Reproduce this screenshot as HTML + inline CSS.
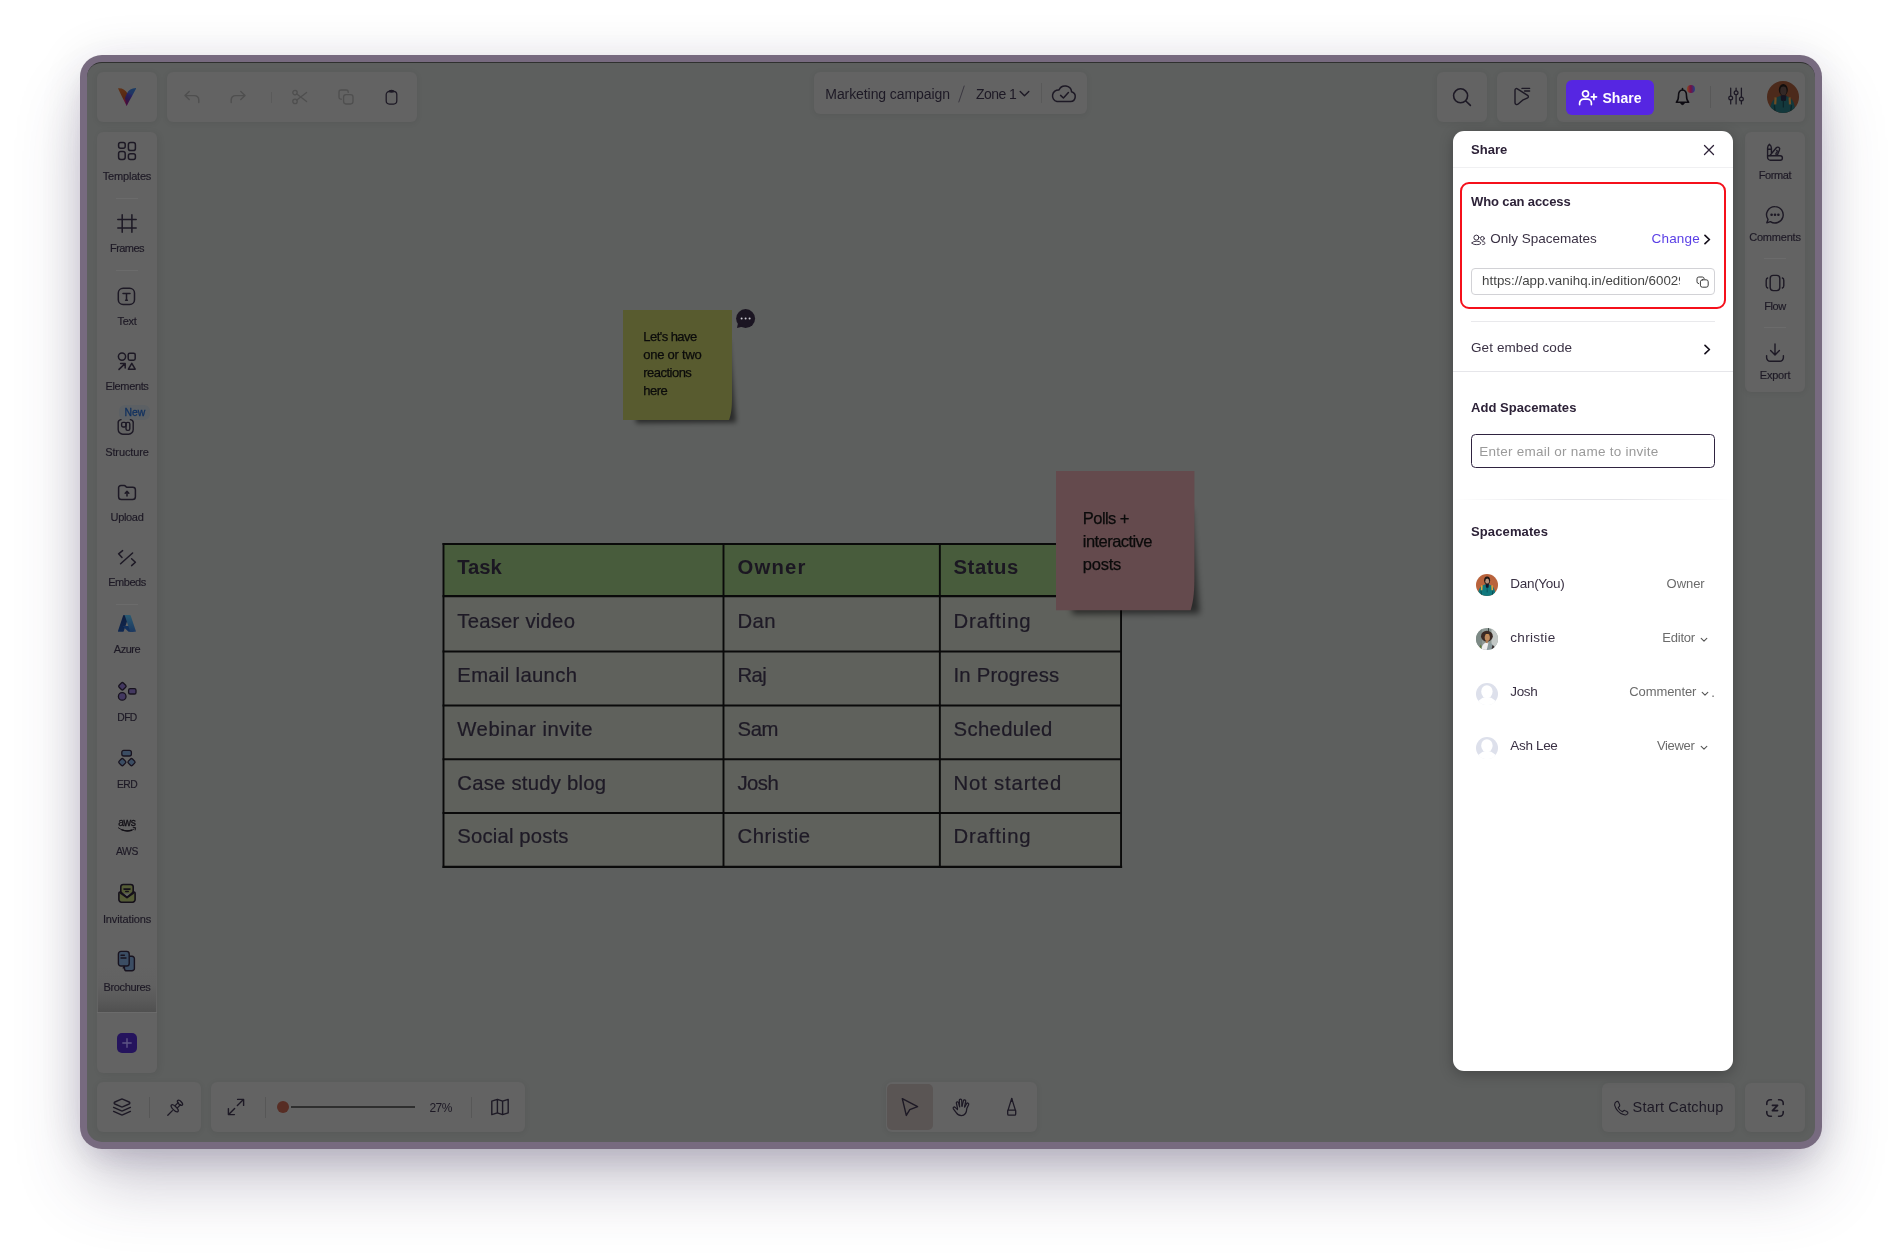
<!DOCTYPE html>
<html lang="en"><head><meta charset="utf-8"><title>Share board</title>
<style>
html,body{margin:0;padding:0;}
body{width:1902px;height:1254px;position:relative;overflow:hidden;background:#fff;
 font-family:"Liberation Sans",sans-serif;}
#root{position:absolute;left:0;top:0;width:1902px;height:1254px;will-change:transform;}
.b{position:absolute;box-sizing:border-box;display:block;}
.t{position:absolute;white-space:nowrap;line-height:1;display:block;}
.p{position:absolute;box-sizing:border-box;background:#636363;border-radius:6px;
 box-shadow:0 1px 6px rgba(0,0,0,.07);}
</style></head>
<body>
<div id="root">
<div class="b" style="left:80px;top:55px;width:1742px;height:1094px;border-radius:22px;background:#776a7f;box-shadow:0 38px 70px -8px rgba(62,50,88,.29),0 14px 30px -10px rgba(40,30,60,.12),0 4px 50px rgba(62,50,88,.12);"></div>
<div class="b" style="left:87px;top:62px;width:1728px;height:1080px;border-radius:15px;background:#5d5f5e;border-top:1px solid #2f302f;"></div>
<svg class="b" style="left:0;top:0" width="1200" height="900" viewBox="0 0 1200 900" fill="none" stroke="#0a0a0a" stroke-linecap="butt"><rect x="443.5" y="544.0" width="677.55" height="322.9" fill="#5f615c" stroke="none"/><rect x="443.5" y="544.0" width="677.55" height="52.10000000000002" fill="#485c3c" stroke="none"/><path d="M442.55 544.0 H1122.1499999999999" stroke-width="2.0"/><path d="M442.55 596.1 H1121.95" stroke-width="2.4"/><path d="M442.55 651.5 H1121.95" stroke-width="2.0"/><path d="M442.55 705.4 H1121.95" stroke-width="2.0"/><path d="M442.55 759.3 H1121.95" stroke-width="2.0"/><path d="M442.55 813.1 H1121.95" stroke-width="2.0"/><path d="M442.55 866.9 H1122.1499999999999" stroke-width="2.1"/><path d="M443.5 543.0 V867.9" stroke-width="1.9"/><path d="M723.5 543.0 V867.9" stroke-width="1.9"/><path d="M939.85 543.0 V867.9" stroke-width="1.9"/><path d="M1121.05 543.0 V867.9" stroke-width="1.9"/></svg>
<span class="t" style="left:457.3px;top:556.97px;font-size:20.3px;color:#1b1722;font-weight:700;letter-spacing:-0.114px;">Task</span>
<span class="t" style="left:737.5px;top:556.97px;font-size:20.3px;color:#1b1722;font-weight:700;letter-spacing:1.187px;">Owner</span>
<span class="t" style="left:953.5px;top:556.97px;font-size:20.3px;color:#1b1722;font-weight:700;letter-spacing:0.556px;">Status</span>
<span class="t" style="left:457.3px;top:611.27px;font-size:20.3px;color:#1e1a26;letter-spacing:0.239px;-webkit-text-stroke:.22px #1e1a26;">Teaser video</span>
<span class="t" style="left:737.5px;top:611.27px;font-size:20.3px;color:#1e1a26;letter-spacing:0.389px;-webkit-text-stroke:.22px #1e1a26;">Dan</span>
<span class="t" style="left:953.5px;top:611.27px;font-size:20.3px;color:#1e1a26;letter-spacing:0.863px;-webkit-text-stroke:.22px #1e1a26;">Drafting</span>
<span class="t" style="left:457.3px;top:665.07px;font-size:20.3px;color:#1e1a26;letter-spacing:0.318px;-webkit-text-stroke:.22px #1e1a26;">Email launch</span>
<span class="t" style="left:737.5px;top:665.07px;font-size:20.3px;color:#1e1a26;letter-spacing:-0.55px;-webkit-text-stroke:.22px #1e1a26;">Raj</span>
<span class="t" style="left:953.5px;top:665.07px;font-size:20.3px;color:#1e1a26;letter-spacing:0.202px;-webkit-text-stroke:.22px #1e1a26;">In Progress</span>
<span class="t" style="left:457.3px;top:718.87px;font-size:20.3px;color:#1e1a26;letter-spacing:0.544px;-webkit-text-stroke:.22px #1e1a26;">Webinar invite</span>
<span class="t" style="left:737.5px;top:718.87px;font-size:20.3px;color:#1e1a26;letter-spacing:-0.362px;-webkit-text-stroke:.22px #1e1a26;">Sam</span>
<span class="t" style="left:953.5px;top:718.87px;font-size:20.3px;color:#1e1a26;letter-spacing:0.373px;-webkit-text-stroke:.22px #1e1a26;">Scheduled</span>
<span class="t" style="left:457.3px;top:772.57px;font-size:20.3px;color:#1e1a26;letter-spacing:0.232px;-webkit-text-stroke:.22px #1e1a26;">Case study blog</span>
<span class="t" style="left:737.5px;top:772.57px;font-size:20.3px;color:#1e1a26;letter-spacing:-0.55px;-webkit-text-stroke:.22px #1e1a26;">Josh</span>
<span class="t" style="left:953.5px;top:772.57px;font-size:20.3px;color:#1e1a26;letter-spacing:0.853px;-webkit-text-stroke:.22px #1e1a26;">Not started</span>
<span class="t" style="left:457.3px;top:826.37px;font-size:20.3px;color:#1e1a26;letter-spacing:0.17px;-webkit-text-stroke:.22px #1e1a26;">Social posts</span>
<span class="t" style="left:737.5px;top:826.37px;font-size:20.3px;color:#1e1a26;letter-spacing:0.558px;-webkit-text-stroke:.22px #1e1a26;">Christie</span>
<span class="t" style="left:953.5px;top:826.37px;font-size:20.3px;color:#1e1a26;letter-spacing:0.863px;-webkit-text-stroke:.22px #1e1a26;">Drafting</span>
<svg class="b" style="left:603px;top:290px" width="149.0" height="150.0"><defs><filter id="ys" x="-20%" y="-20%" width="140%" height="140%"><feGaussianBlur stdDeviation="2.60"/></filter></defs><path d="M32.0 116.0 L126.0 50.0 L133.2 132.6 L33.0 133.2 Z" fill="#000" fill-opacity=".55" filter="url(#ys)"/></svg>
<svg class="b" style="left:623px;top:310px;" width="110" height="111" viewBox="0 0 110 111" fill="none" stroke="none" stroke-width="0" stroke-linecap="round" stroke-linejoin="round"><path d="M0 0 H109 V88 C109 98 108 105 106 110 H0 Z" fill="#585b2f"/></svg>
<span class="t" style="left:643.3px;top:330.45px;font-size:13px;color:#0b0b0b;letter-spacing:-0.55px;-webkit-text-stroke:.25px #0b0b0b;">Let&#x27;s have</span>
<span class="t" style="left:643.3px;top:348.45px;font-size:13px;color:#0b0b0b;letter-spacing:-0.25px;-webkit-text-stroke:.25px #0b0b0b;">one or two</span>
<span class="t" style="left:643.3px;top:366.45px;font-size:13px;color:#0b0b0b;letter-spacing:-0.524px;-webkit-text-stroke:.25px #0b0b0b;">reactions</span>
<span class="t" style="left:643.3px;top:384.45px;font-size:13px;color:#0b0b0b;letter-spacing:-0.55px;-webkit-text-stroke:.25px #0b0b0b;">here</span>
<svg class="b" style="left:735px;top:308px;" width="22" height="22" viewBox="0 0 22 22" fill="none" stroke="none" stroke-width="0" stroke-linecap="round" stroke-linejoin="round"><circle cx="10.6" cy="10.6" r="9.5" fill="#1b1522"/><path d="M3 15 L2 20 L8 18.6 Z" fill="#1b1522"/><circle cx="6.6" cy="10.6" r="1" fill="#c9c6cf"/><circle cx="10.6" cy="10.6" r="1" fill="#c9c6cf"/><circle cx="14.6" cy="10.6" r="1" fill="#c9c6cf"/></svg>
<svg class="b" style="left:1036px;top:451px" width="178.4" height="179.2"><defs><filter id="ps" x="-20%" y="-20%" width="140%" height="140%"><feGaussianBlur stdDeviation="3.25"/></filter></defs><path d="M35.0 145.2 L155.4 57.5 L163.7 162.5 L36.2 163.2 Z" fill="#000" fill-opacity=".55" filter="url(#ps)"/></svg>
<svg class="b" style="left:1056px;top:471px;" width="139" height="140" viewBox="0 0 139 140" fill="none" stroke="none" stroke-width="0" stroke-linecap="round" stroke-linejoin="round"><path d="M0 0 H138.4 V108 C138.4 122 137 132 134.6 139.2 H0 Z" fill="#644a4d"/></svg>
<span class="t" style="left:1082.8px;top:509.68px;font-size:16.5px;color:#0b0b0b;letter-spacing:-0.55px;-webkit-text-stroke:.25px #0b0b0b;">Polls +</span>
<span class="t" style="left:1082.8px;top:532.78px;font-size:16.5px;color:#0b0b0b;letter-spacing:-0.55px;-webkit-text-stroke:.25px #0b0b0b;">interactive</span>
<span class="t" style="left:1082.8px;top:555.88px;font-size:16.5px;color:#0b0b0b;letter-spacing:-0.252px;-webkit-text-stroke:.25px #0b0b0b;">posts</span>
<div class="p" style="left:97px;top:72px;width:60px;height:50px;"></div>
<svg class="b" style="left:117.85px;top:87.7px;" width="18.3" height="17.9" viewBox="0 0 18.3 17.9" fill="none" stroke="none" stroke-width="0" stroke-linecap="round" stroke-linejoin="round"><defs><linearGradient id="lgL" x1="2" y1="1" x2="9" y2="17" gradientUnits="userSpaceOnUse"><stop offset="0" stop-color="#603116"/><stop offset=".55" stop-color="#582813"/><stop offset=".72" stop-color="#66172e"/><stop offset="1" stop-color="#4d0d3c"/></linearGradient><linearGradient id="lgR" x1="16.5" y1="1" x2="8.5" y2="17.5" gradientUnits="userSpaceOnUse"><stop offset="0" stop-color="#1b3b63"/><stop offset=".3" stop-color="#1f3564"/><stop offset=".42" stop-color="#272161"/><stop offset=".66" stop-color="#2b1a4c"/><stop offset=".8" stop-color="#3c1042"/><stop offset="1" stop-color="#470a40"/></linearGradient></defs><path d="M0 0.3 C4.6 0 7.8 2.2 9.2 5 L9.4 12 L8.7 17.9 C5.8 12.2 2.4 5.6 0 0.3Z" fill="url(#lgL)"/><path d="M18.3 0.1 C13.5 0.3 10.6 2.4 9.2 5 C8.2 6.8 7.4 8.6 7 10 C7.4 13 8 15.6 8.7 17.9 C11.5 12.2 15.4 5.8 18.3 0.1Z" fill="url(#lgR)"/></svg>
<div class="p" style="left:167px;top:72px;width:250px;height:50px;"></div>
<svg class="b" style="left:184px;top:89px;" width="16" height="16" viewBox="0 0 16 16" fill="none" stroke="#4f4f4f" stroke-width="1.4" stroke-linecap="round" stroke-linejoin="round"><path d="M5.2 2.6 L1 6.6 L5.2 10.6 M1.2 6.6 H10.5 A4.3 4.3 0 0 1 14.8 10.9 V13.6"/></svg>
<svg class="b" style="left:230px;top:89px;" width="16" height="16" viewBox="0 0 16 16" fill="none" stroke="#4f4f4f" stroke-width="1.4" stroke-linecap="round" stroke-linejoin="round"><path d="M10.8 2.6 L15 6.6 L10.8 10.6 M14.8 6.6 H5.5 A4.3 4.3 0 0 0 1.2 10.9 V13.6"/></svg>
<div class="b" style="left:271px;top:92px;width:1px;height:11px;background:#5a5a5a;"></div>
<svg class="b" style="left:292px;top:89px;" width="16" height="16" viewBox="0 0 16 16" fill="none" stroke="#4f4f4f" stroke-width="1.3" stroke-linecap="round" stroke-linejoin="round"><circle cx="3" cy="3.6" r="2.2"/><circle cx="3" cy="12.4" r="2.2"/><path d="M4.8 5 L14.6 12.6 M4.8 11 L14.6 3.4"/></svg>
<svg class="b" style="left:338px;top:89px;" width="16" height="16" viewBox="0 0 16 16" fill="none" stroke="#4f4f4f" stroke-width="1.3" stroke-linecap="round" stroke-linejoin="round"><rect x="5.6" y="5.6" width="9.4" height="9.4" rx="2.4"/><path d="M3.4 10.2 H3 A2 2 0 0 1 1 8.2 V3 A2 2 0 0 1 3 1 H8.2 A2 2 0 0 1 10.2 3 V3.4"/></svg>
<svg class="b" style="left:385px;top:89px;" width="13" height="16" viewBox="0 0 13 16" fill="none" stroke="#1d1925" stroke-width="1.25" stroke-linecap="round" stroke-linejoin="round"><rect x="1.2" y="2.4" width="10.6" height="12.6" rx="3.2"/><path d="M3.8 2.6 C4.2 0.8 8.8 0.8 9.2 2.6 C8 3.4 5 3.4 3.8 2.6"/></svg>
<div class="p" style="left:814px;top:72px;width:273px;height:42px;"></div>
<span class="t" style="left:825.3px;top:86.90px;font-size:14px;color:#1d1925;letter-spacing:-0.08px;">Marketing campaign</span>
<svg class="b" style="left:957px;top:85px;" width="9" height="18" viewBox="0 0 9 18" fill="none" stroke="#3a3740" stroke-width="1" stroke-linecap="round" stroke-linejoin="round"><path d="M7.2 1 L1.8 17"/></svg>
<span class="t" style="left:976px;top:86.90px;font-size:14px;color:#1d1925;letter-spacing:-0.55px;">Zone 1</span>
<svg class="b" style="left:1019px;top:89.7px;" width="11" height="8" viewBox="0 0 11 8" fill="none" stroke="#1d1925" stroke-width="1.4" stroke-linecap="round" stroke-linejoin="round"><path d="M1.2 1.6 L5.5 5.8 L9.8 1.6"/></svg>
<div class="b" style="left:1041px;top:83px;width:1px;height:20px;background:#595959;"></div>
<svg class="b" style="left:1050px;top:84px;" width="28" height="20" viewBox="0 0 28 20" fill="none" stroke="#1d1925" stroke-width="1.5" stroke-linecap="round" stroke-linejoin="round"><path d="M7 17.6 H20.5 A5 5 0 0 0 21.6 7.8 A6.6 6.6 0 0 0 9 6 A5.9 5.9 0 0 0 7 17.6 Z"/><path d="M10.6 11.4 L13.4 14 L18.4 8.6"/></svg>
<div class="p" style="left:1437px;top:72px;width:50px;height:50px;"></div>
<svg class="b" style="left:1452px;top:87px;" width="20" height="20" viewBox="0 0 20 20" fill="none" stroke="#1d1925" stroke-width="1.6" stroke-linecap="round" stroke-linejoin="round"><circle cx="8.6" cy="8.8" r="7"/><path d="M13.8 14 L18.4 18.4"/></svg>
<div class="p" style="left:1497px;top:72px;width:50px;height:50px;"></div>
<svg class="b" style="left:1513px;top:87px;" width="18" height="19" viewBox="0 0 18 19" fill="none" stroke="#1d1925" stroke-width="1.4" stroke-linecap="round" stroke-linejoin="round"><path d="M2 3.2 C2 1.8 3.2 1.2 4.4 1.8 L14.6 8.4 C15.8 9.2 15.6 10.6 14.2 11.2 L9.6 13.2 L5.2 17 C3.8 18.2 2 17.4 2 15.8 Z"/><path d="M9 1.4 H16.6 M11.6 4 H16.6"/></svg>
<div class="p" style="left:1557px;top:72px;width:248px;height:50px;"></div>
<div class="b" style="left:1566.3px;top:80px;width:87.7px;height:35px;background:#5626e2;border-radius:6px;"></div>
<svg class="b" style="left:1578px;top:89px;" width="20" height="17" viewBox="0 0 20 17" fill="none" stroke="#fff" stroke-width="1.7" stroke-linecap="round" stroke-linejoin="round"><circle cx="7.5" cy="4.8" r="3"/><path d="M1.6 15.6 V14.2 A4 4 0 0 1 5.6 10.2 H9.4 A4 4 0 0 1 13.4 14.2 V15.6"/><path d="M15.9 5.2 V10.4 M13.3 7.8 H18.5"/></svg>
<span class="t" style="left:1602.5px;top:90.90px;font-size:14px;color:#fff;font-weight:700;letter-spacing:0.023px;">Share</span>
<svg class="b" style="left:1674px;top:87px;" width="18" height="21" viewBox="0 0 18 21" fill="none" stroke="#0e0c12" stroke-width="1.55" stroke-linecap="round" stroke-linejoin="round"><path d="M8.5 1.5 V2.8"/><path d="M2.3 15.3 C4.5 13.4 4.5 11.6 4.5 8.8 C4.5 5.2 6 3 8.5 3 C11 3 12.5 5.2 12.5 8.8 C12.5 11.6 12.5 13.4 14.7 15.3 Z"/><path d="M6.7 16 C7.1 18.3 9.9 18.3 10.3 16 Z" fill="#0e0c12" stroke-width="1"/></svg>
<div class="b" style="left:1686.8px;top:84.9px;width:8.3px;height:8.3px;border-radius:50%;background:linear-gradient(90deg,#8a4a1e 0%,#78143c 42%,#5c1a58 62%,#1f4585 100%);"></div>
<div class="b" style="left:1710px;top:86px;width:1px;height:22px;background:#585858;"></div>
<svg class="b" style="left:1727px;top:87px;" width="18" height="18" viewBox="0 0 18 18" fill="none" stroke="#1d1925" stroke-width="1.25" stroke-linecap="round" stroke-linejoin="round"><path d="M3.7 1.1 V9 M3.7 13 V16.9 M9.1 1.1 V3.8 M9.1 7.8 V16.9 M14.4 1.1 V9.9 M14.4 13.9 V16.9"/><circle cx="3.7" cy="11" r="1.9"/><circle cx="9.1" cy="5.8" r="1.9"/><circle cx="14.4" cy="11.9" r="1.9"/></svg>
<svg class="b" style="left:1767px;top:81px;" width="32" height="32" viewBox="0 0 32 32" fill="none" stroke="none" stroke-width="0" stroke-linecap="round" stroke-linejoin="round"><defs><clipPath id="avc"><circle cx="16" cy="16" r="16"/></clipPath></defs><g clip-path="url(#avc)"><rect width="32" height="32" fill="#4c2a1b"/><path d="M2.4 32 C3 21 7.4 15.2 16.2 14.6 C24.8 15.2 28.2 21 28.2 32 Z" fill="#13383c"/><path d="M8.6 16.4 L8.2 23.4 M22.6 16.4 L23 23.4" stroke="#6e4c22" stroke-width="2.2" stroke-linecap="butt"/><path d="M7.4 24.6 L8.2 32 M24.4 24.6 L23.6 32" stroke="#0c2528" stroke-width="1.4"/><ellipse cx="16.3" cy="8.8" rx="4.5" ry="5.9" fill="#120e0d"/><ellipse cx="16.4" cy="10" rx="3.2" ry="4.4" fill="#332826"/><path d="M13.6 14.2 H19.4 L19 19.2 C18 20.4 15 20.4 14 19.2 Z" fill="#141421"/><path d="M16.3 19.6 V26" stroke="#0c2226" stroke-width="1.1"/></g></svg>
<div class="p" style="left:97px;top:132px;width:60px;height:941px;box-shadow:2px 1px 7px rgba(0,0,0,.07);"></div>
<svg class="b" style="left:117px;top:141px;" width="20" height="20" viewBox="0 0 20 20" fill="none" stroke="#1d1925" stroke-width="1.5" stroke-linecap="round" stroke-linejoin="round"><rect x="1.6" y="1.6" width="6.6" height="5.6" rx="2"/><rect x="11.4" y="1.6" width="7" height="8" rx="2.2"/><rect x="1.6" y="10.4" width="6.6" height="8" rx="2.2"/><rect x="11.4" y="12.8" width="7" height="5.6" rx="2"/></svg>
<span class="t" style="left:127px;top:170.84px;font-size:11px;color:#1d1925;letter-spacing:-0.198px;transform:translateX(-50%);-webkit-text-stroke:.15px #1d1925;">Templates</span>
<div class="b" style="left:116px;top:197.5px;width:22px;height:1px;background:#6b6b6b;"></div>
<svg class="b" style="left:117px;top:214px;" width="20" height="19" viewBox="0 0 20 19" fill="none" stroke="#1d1925" stroke-width="1.5" stroke-linecap="round" stroke-linejoin="round"><path d="M5.2 0.8 V18.2 M14.9 0.8 V18.2 M0.8 5.4 H19.2 M0.8 13.9 H19.2"/></svg>
<span class="t" style="left:127px;top:242.94px;font-size:11px;color:#1d1925;letter-spacing:-0.55px;transform:translateX(-50%);-webkit-text-stroke:.15px #1d1925;">Frames</span>
<div class="b" style="left:116px;top:270px;width:22px;height:1px;background:#6b6b6b;"></div>
<svg class="b" style="left:117px;top:287px;" width="19" height="19" viewBox="0 0 19 19" fill="none" stroke="#1d1925" stroke-width="1.5" stroke-linecap="round" stroke-linejoin="round"><rect x="1.3" y="1.3" width="16.2" height="16.2" rx="4.8"/><path d="M6 6.6 H13 M9.5 6.6 V13.2 M8.6 13.3 H10.4"/></svg>
<span class="t" style="left:127px;top:315.54px;font-size:11px;color:#1d1925;letter-spacing:-0.274px;transform:translateX(-50%);-webkit-text-stroke:.15px #1d1925;">Text</span>
<svg class="b" style="left:117px;top:352px;" width="20" height="19" viewBox="0 0 20 19" fill="none" stroke="#1d1925" stroke-width="1.5" stroke-linecap="round" stroke-linejoin="round"><circle cx="5" cy="4.6" r="3.6"/><rect x="11.2" y="1.2" width="7" height="7" rx="1.6"/><path d="M2 17.4 L8 11.6 M3.6 11.4 H8.2 V16"/><path d="M14.8 11.4 L18.2 17.2 H11.4 Z"/></svg>
<span class="t" style="left:127px;top:381.14px;font-size:11px;color:#1d1925;letter-spacing:-0.357px;transform:translateX(-50%);-webkit-text-stroke:.15px #1d1925;">Elements</span>
<div class="b" style="left:119px;top:405.2px;width:30.7px;height:14.5px;background:#5c6064;border-radius:6px;"></div>
<span class="t" style="left:134.8px;top:408.15px;font-size:10.4px;color:#10305f;letter-spacing:0.008px;transform:translateX(-50%);-webkit-text-stroke:.3px #10305f;">New</span>
<svg class="b" style="left:117px;top:418px;" width="18" height="18" viewBox="0 0 18 18" fill="none" stroke="#1d1925" stroke-width="1.4" stroke-linecap="round" stroke-linejoin="round"><path d="M4 1.6 A3.4 3.4 0 0 0 1.2 5.4 V11.6 A4.6 4.6 0 0 0 5.8 16.2 H11.6 A4.6 4.6 0 0 0 16.2 11.6 V5.4 A3.4 3.4 0 0 0 13.4 1.6" /><rect x="4.6" y="4.4" width="4.4" height="4.6" rx="1.4"/><rect x="9" y="4.4" width="3.8" height="8" rx="1.6"/></svg>
<span class="t" style="left:127px;top:446.74px;font-size:11px;color:#1d1925;letter-spacing:-0.109px;transform:translateX(-50%);-webkit-text-stroke:.15px #1d1925;">Structure</span>
<svg class="b" style="left:117px;top:484px;" width="20" height="17" viewBox="0 0 20 17" fill="none" stroke="#1d1925" stroke-width="1.5" stroke-linecap="round" stroke-linejoin="round"><path d="M1.6 4 A2.4 2.4 0 0 1 4 1.4 H7.2 C8.6 1.4 8.6 3.2 10 3.2 H15.8 A2.6 2.6 0 0 1 18.4 5.8 V12.8 A2.8 2.8 0 0 1 15.6 15.6 H4.4 A2.8 2.8 0 0 1 1.6 12.8 Z"/><path d="M10 12 V7.6 M8.2 9.2 L10 7.4 L11.8 9.2"/></svg>
<span class="t" style="left:127px;top:511.84px;font-size:11px;color:#1d1925;letter-spacing:-0.321px;transform:translateX(-50%);-webkit-text-stroke:.15px #1d1925;">Upload</span>
<svg class="b" style="left:117px;top:549px;" width="20" height="18" viewBox="0 0 20 18" fill="none" stroke="#1d1925" stroke-width="1.5" stroke-linecap="round" stroke-linejoin="round"><path d="M5.6 1.6 L1.6 4.8 L5 8.4 M3.6 14.8 L15.6 4 M14.6 9.8 L18.4 13.2 L14.6 16.6"/></svg>
<span class="t" style="left:127px;top:577.44px;font-size:11px;color:#1d1925;letter-spacing:-0.48px;transform:translateX(-50%);-webkit-text-stroke:.15px #1d1925;">Embeds</span>
<div class="b" style="left:116px;top:604.3px;width:22px;height:1px;background:#6b6b6b;"></div>
<svg class="b" style="left:118.1px;top:615.1px" width="17.8" height="16.8" viewBox="4 6.5 88 83" preserveAspectRatio="none"><defs><linearGradient id="azL" x1="0" y1="0" x2="0" y2="1"><stop offset="0" stop-color="#0e1d3e"/><stop offset="1" stop-color="#102850"/></linearGradient><linearGradient id="azR" x1="0" y1="0" x2="0" y2="1"><stop offset="0" stop-color="#2a5a72"/><stop offset="1" stop-color="#1b3860"/></linearGradient></defs><path fill="url(#azL)" d="M33.338 6.544h26.038l-27.03 80.087a4.152 4.152 0 0 1-3.933 2.824H8.149a4.145 4.145 0 0 1-3.928-5.47L29.404 9.368a4.152 4.152 0 0 1 3.934-2.825z"/><path fill="#12305c" d="M71.175 60.261h-41.29a1.911 1.911 0 0 0-1.305 3.309l26.532 24.764a4.171 4.171 0 0 0 2.846 1.121h23.38z"/><path fill="url(#azR)" d="M66.595 9.364a4.145 4.145 0 0 0-3.928-2.82H33.648a4.146 4.146 0 0 1 3.928 2.82l25.184 74.62a4.146 4.146 0 0 1-3.928 5.472h29.02a4.146 4.146 0 0 0 3.927-5.472z"/></svg>
<span class="t" style="left:127px;top:643.84px;font-size:11px;color:#1d1925;letter-spacing:-0.446px;transform:translateX(-50%);-webkit-text-stroke:.15px #1d1925;">Azure</span>
<svg class="b" style="left:117px;top:681px;" width="21" height="21" viewBox="0 0 21 21" fill="none" stroke="#18131f" stroke-width="1.3" stroke-linecap="round" stroke-linejoin="round"><rect x="2.4" y="2.2" width="6" height="6" rx="1.4" transform="rotate(45 5.4 5.2)" fill="#433860"/><circle cx="5.2" cy="15.4" r="3.8" fill="#433860"/><rect x="11.6" y="7.6" width="7.4" height="5.4" rx="1.6" fill="#433860"/></svg>
<span class="t" style="left:127px;top:712.73px;font-size:10.3px;color:#1d1925;letter-spacing:-0.55px;transform:translateX(-50%);-webkit-text-stroke:.15px #1d1925;">DFD</span>
<svg class="b" style="left:117px;top:749px;" width="20" height="19" viewBox="0 0 20 19" fill="none" stroke="#18131f" stroke-width="1.3" stroke-linecap="round" stroke-linejoin="round"><rect x="4.8" y="1.4" width="9.6" height="5.6" rx="2" fill="#3b4d63"/><rect x="2.4" y="10.2" width="5.8" height="5.8" rx="1.4" transform="rotate(45 5.3 13.1)" fill="#3b4d63"/><rect x="11.6" y="10.2" width="5.8" height="5.8" rx="1.4" transform="rotate(45 14.5 13.1)" fill="#3b4d63"/></svg>
<span class="t" style="left:127px;top:779.93px;font-size:10.3px;color:#1d1925;letter-spacing:-0.55px;transform:translateX(-50%);-webkit-text-stroke:.15px #1d1925;">ERD</span>
<span class="t" style="left:126.8px;top:817.55px;font-size:10.4px;color:#121016;letter-spacing:-0.4px;transform:translateX(-50%);-webkit-text-stroke:.3px #121016;">aws</span>
<svg class="b" style="left:117px;top:826px;" width="20" height="7" viewBox="0 0 20 7" fill="none" stroke="#121016" stroke-width="1" stroke-linecap="round" stroke-linejoin="round"><path d="M1.4 1.8 C6.4 5.6 12.6 5.8 17.2 3 M16.2 1.4 L18.6 1.6 L18.2 4" stroke-width=".9"/><path d="M5 3.9 C8.4 5.2 11.6 5.2 14.6 4.2" stroke-width="1.5"/></svg>
<span class="t" style="left:127px;top:847.23px;font-size:10.3px;color:#1d1925;letter-spacing:-0.283px;transform:translateX(-50%);-webkit-text-stroke:.15px #1d1925;">AWS</span>
<svg class="b" style="left:117px;top:883px;" width="20" height="21" viewBox="0 0 20 21" fill="none" stroke="#15101a" stroke-width="1.6" stroke-linecap="round" stroke-linejoin="round"><path d="M3.8 10.4 V3.8 A2.4 2.4 0 0 1 6.2 1.5 H13.8 A2.4 2.4 0 0 1 16.2 3.8 V10.4" fill="#555c36"/><path d="M1.9 10.4 C1.9 9.4 2.8 8.8 3.8 9.2 L10 14.3 L16.2 9.2 C17.2 8.8 18.1 9.4 18.1 10.4 V16.6 A2.6 2.6 0 0 1 15.5 19.2 H4.5 A2.6 2.6 0 0 1 1.9 16.6 Z" fill="#555c36"/><path d="M3.8 10.4 L10 14.6 L16.2 10.4"/><path d="M7 6.1 H13 M8.8 8.5 H11.2"/></svg>
<span class="t" style="left:127px;top:913.84px;font-size:11px;color:#1d1925;letter-spacing:-0.127px;transform:translateX(-50%);-webkit-text-stroke:.15px #1d1925;">Invitations</span>
<div class="b" style="left:98px;top:966px;width:58px;height:45.5px;background:linear-gradient(180deg,rgba(80,80,80,0) 0%,rgba(80,80,80,.12) 45%,rgba(80,80,80,.5) 75%,rgba(80,80,80,1) 100%);"></div>
<svg class="b" style="left:117px;top:950px;" width="19" height="22" viewBox="0 0 19 22" fill="none" stroke="#18131f" stroke-width="1.4" stroke-linecap="round" stroke-linejoin="round"><path d="M7.4 16.8 V18.4 A2.4 2.4 0 0 0 9.8 20.8 H15 A2.4 2.4 0 0 0 17.4 18.4 V8.6 A2.4 2.4 0 0 0 15 6.2 H13" fill="#3b4d63"/><rect x="1.4" y="1.4" width="10.8" height="14.6" rx="2.6" fill="#3b4d63"/><path d="M7.2 16.4 L6.2 18" /><path d="M4 5.2 H7.4 M4 8 H9"/></svg>
<span class="t" style="left:127px;top:981.64px;font-size:11px;color:#1d1925;letter-spacing:-0.36px;transform:translateX(-50%);-webkit-text-stroke:.15px #1d1925;">Brochures</span>
<div class="b" style="left:97px;top:1011.5px;width:60px;height:1px;background:#6b6b6b;"></div>
<div class="b" style="left:117px;top:1033px;width:20px;height:20px;background:#25145d;border-radius:5px;"></div>
<svg class="b" style="left:117px;top:1033px;" width="20" height="20" viewBox="0 0 20 20" fill="none" stroke="#5e5585" stroke-width="1.4" stroke-linecap="round" stroke-linejoin="round"><path d="M10 5.8 V14.2 M5.8 10 H14.2"/></svg>
<div class="p" style="left:1745px;top:132px;width:60px;height:260px;"></div>
<svg class="b" style="left:1766px;top:143px;" width="18" height="19" viewBox="0 0 18 19" fill="none" stroke="#1d1925" stroke-width="1.4" stroke-linecap="round" stroke-linejoin="round"><path d="M1.6 13 V5 C1.6 3.5 2.5 2.1 3.4 1.3 C4.4 2.1 5.4 3.5 5.4 5 V9.6 M1.8 6.3 H5.3"/><path d="M3.9 12.5 L10.3 4.8 C11.6 3.3 14.5 4.7 13.5 6.8 L11.2 12.4"/><path d="M10.7 7.4 C11.7 8.1 11.3 9.6 10 10.3 L10.2 12.2"/><path d="M1.6 12.8 H14.2 A2.2 2.2 0 0 1 14.2 17.2 H4.4 A2.8 2.8 0 0 1 1.6 14.4 Z"/></svg>
<span class="t" style="left:1775px;top:170.14px;font-size:11px;color:#1d1925;letter-spacing:-0.377px;transform:translateX(-50%);-webkit-text-stroke:.15px #1d1925;">Format</span>
<svg class="b" style="left:1765px;top:205px;" width="20" height="20" viewBox="0 0 20 20" fill="none" stroke="#1d1925" stroke-width="1.4" stroke-linecap="round" stroke-linejoin="round"><path d="M10 1.6 A8.2 8.2 0 1 1 5.4 16.6 L1.8 17.8 L3 14.4 A8.2 8.2 0 0 1 10 1.6 Z"/><circle cx="6.6" cy="9.8" r=".6" fill="#1d1925"/><circle cx="10" cy="9.8" r=".6" fill="#1d1925"/><circle cx="13.4" cy="9.8" r=".6" fill="#1d1925"/></svg>
<span class="t" style="left:1775px;top:231.94px;font-size:11px;color:#1d1925;letter-spacing:-0.204px;transform:translateX(-50%);-webkit-text-stroke:.15px #1d1925;">Comments</span>
<div class="b" style="left:1764px;top:258px;width:22px;height:1px;background:#6b6b6b;"></div>
<svg class="b" style="left:1765px;top:274px;" width="20" height="18" viewBox="0 0 20 18" fill="none" stroke="#1d1925" stroke-width="1.4" stroke-linecap="round" stroke-linejoin="round"><rect x="5.2" y="1.4" width="9.6" height="15.2" rx="3"/><path d="M2.6 4 C1.4 4.4 1.2 5.4 1.2 6.4 V11.6 C1.2 12.6 1.4 13.6 2.6 14 M17.4 4 C18.6 4.4 18.8 5.4 18.8 6.4 V11.6 C18.8 12.6 18.6 13.6 17.4 14"/></svg>
<span class="t" style="left:1775px;top:300.84px;font-size:11px;color:#1d1925;letter-spacing:-0.391px;transform:translateX(-50%);-webkit-text-stroke:.15px #1d1925;">Flow</span>
<div class="b" style="left:1764px;top:326.6px;width:22px;height:1px;background:#6b6b6b;"></div>
<svg class="b" style="left:1765px;top:342px;" width="20" height="21" viewBox="0 0 20 21" fill="none" stroke="#1d1925" stroke-width="1.4" stroke-linecap="round" stroke-linejoin="round"><path d="M10 2 V12.6 M5.6 8.6 L10 13 L14.4 8.6"/><path d="M1.6 13.6 V15.6 A3.6 3.6 0 0 0 5.2 19.2 H14.8 A3.6 3.6 0 0 0 18.4 15.6 V13.6"/></svg>
<span class="t" style="left:1775px;top:370.04px;font-size:11px;color:#1d1925;letter-spacing:-0.228px;transform:translateX(-50%);-webkit-text-stroke:.15px #1d1925;">Export</span>
<div class="p" style="left:97px;top:1081.8px;width:104px;height:50.2px;"></div>
<svg class="b" style="left:112px;top:1097px;" width="20" height="20" viewBox="0 0 20 20" fill="none" stroke="#1d1925" stroke-width="1.4" stroke-linecap="round" stroke-linejoin="round"><path d="M8.9 2.3 L2.9 5 C1.9 5.5 1.9 6.5 2.9 7 L8.9 9.7 C9.6 10 10.4 10 11.1 9.7 L17.1 7 C18.1 6.5 18.1 5.5 17.1 5 L11.1 2.3 C10.4 2 9.6 2 8.9 2.3 Z"/><path d="M1.6 10.4 L8.9 13.7 C9.6 14 10.4 14 11.1 13.7 L18.4 10.4 M1.6 14.4 L8.9 17.7 C9.6 18 10.4 18 11.1 17.7 L18.4 14.4"/></svg>
<div class="b" style="left:149px;top:1096.5px;width:1px;height:21px;background:#575757;"></div>
<svg class="b" style="left:166px;top:1097px;" width="20" height="20" viewBox="0 0 20 20" fill="none" stroke="#1d1925" stroke-width="1.3" stroke-linecap="round" stroke-linejoin="round"><ellipse cx="14" cy="5.8" rx="3.2" ry="1.6" transform="rotate(45 14 5.8)"/><path d="M12.2 5.6 L9.4 8.4 M14.4 7.8 L11.6 10.6"/><ellipse cx="8.7" cy="11.3" rx="4.6" ry="1.9" transform="rotate(45 8.7 11.3)"/><path d="M6.4 13.6 L1.8 18.2"/></svg>
<div class="p" style="left:211px;top:1081.8px;width:314px;height:50.2px;"></div>
<svg class="b" style="left:226px;top:1097px;" width="20" height="20" viewBox="0 0 20 20" fill="none" stroke="#1d1925" stroke-width="1.4" stroke-linecap="round" stroke-linejoin="round"><path d="M11.6 2.4 H17.6 V8.4 M17.4 2.6 L11.4 8.6 M8.4 17.6 H2.4 V11.6 M2.6 17.4 L8.6 11.4"/></svg>
<div class="b" style="left:265px;top:1096.5px;width:1px;height:21px;background:#575757;"></div>
<div class="b" style="left:291px;top:1106.1px;width:124px;height:1.9px;background:#2e2e2e;"></div>
<div class="b" style="left:276.6px;top:1101px;width:12px;height:12px;border-radius:50%;background:#572d24;"></div>
<span class="t" style="left:429.5px;top:1101.99px;font-size:12px;color:#1d1925;letter-spacing:-0.55px;">27%</span>
<div class="b" style="left:470.8px;top:1096.5px;width:1px;height:21px;background:#575757;"></div>
<svg class="b" style="left:490px;top:1097px;" width="20" height="20" viewBox="0 0 20 20" fill="none" stroke="#1d1925" stroke-width="1.4" stroke-linecap="round" stroke-linejoin="round"><path d="M1.8 4.2 L7.4 2.4 L12.6 4.2 L18.2 2.4 V15.8 L12.6 17.6 L7.4 15.8 L1.8 17.6 Z M7.4 2.4 V15.8 M12.6 4.2 V17.6"/></svg>
<div class="p" style="left:885.8px;top:1082.1px;width:151.2px;height:49.8px;"></div>
<div class="b" style="left:887.2px;top:1084px;width:45.8px;height:46px;background:#5a5554;border-radius:5px;"></div>
<svg class="b" style="left:899px;top:1097px;" width="21" height="21" viewBox="0 0 21 21" fill="none" stroke="#1d1925" stroke-width="1.4" stroke-linecap="round" stroke-linejoin="round"><path d="M3.3 1.6 L18.6 9.7 L10.8 12.6 L7.3 18.4 Z"/></svg>
<svg class="b" style="left:951px;top:1096px;" width="20" height="22" viewBox="0 0 20 22" fill="none" stroke="#1d1925" stroke-width="1.25" stroke-linecap="round" stroke-linejoin="round"><path d="M6.5 12.6 L5.4 7.2 C5.1 5.6 7.3 5.2 7.7 6.8 L8.7 10.8"/><path d="M8.5 10 L8.3 4.2 C8.3 2.6 10.6 2.6 10.7 4.2 L11 10.2"/><path d="M11 10 L12.4 4.8 C12.8 3.3 15 3.9 14.7 5.4 L13.6 10.8"/><path d="M13.6 10.8 L15.6 7.6 C16.4 6.3 18.3 7.4 17.6 8.8 L15.8 12.6 C15.6 16.6 13.8 19.6 10.4 19.6 C7.8 19.6 6.4 18.4 5.2 16.6 L2.4 12.8 C1.6 11.6 3.1 10.4 4.2 11.4 L6.5 13.6"/></svg>
<svg class="b" style="left:1003px;top:1096px;" width="17" height="22" viewBox="0 0 17 22" fill="none" stroke="#1d1925" stroke-width="1.3" stroke-linecap="round" stroke-linejoin="round"><path d="M8.7 2.4 L12.2 13.6 C12.6 14 12.7 14.4 12.7 15 V18 C12.7 18.8 12.3 19.2 11.5 19.2 H5.9 C5.1 19.2 4.7 18.8 4.7 18 V15 C4.7 14.4 4.8 14 5.2 13.6 Z M5.2 14.2 H12.2"/><path d="M8.7 2.6 V5.4"/></svg>
<div class="p" style="left:1602px;top:1083px;width:133px;height:49px;"></div>
<svg class="b" style="left:1612px;top:1100px;" width="17" height="16" viewBox="0 0 17 16" fill="none" stroke="#1d1925" stroke-width="1.1" stroke-linecap="round" stroke-linejoin="round"><path d="M4.6 1.6 C5.4 1.2 6.2 1.6 6.6 2.4 L7.6 4.8 C7.9 5.6 7.6 6.2 7 6.8 L6.2 7.6 C7 9.4 8.6 11 10.4 11.8 L11.2 11 C11.8 10.4 12.6 10.2 13.2 10.6 L15.2 11.8 C16 12.3 16 13.2 15.6 13.8 C14.6 15.2 13 15.2 11.4 14.6 C7.6 13.2 4 9.6 2.8 5.6 C2.4 4 3 2.4 4.6 1.6 Z"/></svg>
<span class="t" style="left:1632.6px;top:1100.38px;font-size:14.5px;color:#1d1925;letter-spacing:0.173px;">Start Catchup</span>
<div class="p" style="left:1745px;top:1083px;width:60px;height:49px;"></div>
<svg class="b" style="left:1765px;top:1098px;" width="20" height="20" viewBox="0 0 20 20" fill="none" stroke="#1d1925" stroke-width="1.6" stroke-linecap="round" stroke-linejoin="round"><path d="M1.8 6.4 V5.2 A3.4 3.4 0 0 1 5.2 1.8 H6.4 M13.6 1.8 H14.8 A3.4 3.4 0 0 1 18.2 5.2 V6.4 M18.2 13.6 V14.8 A3.4 3.4 0 0 1 14.8 18.2 H13.6 M6.4 18.2 H5.2 A3.4 3.4 0 0 1 1.8 14.8 V13.6"/><path d="M7.4 7.4 H12.6 L7.4 12.6 H12.6"/></svg>
<div class="b" style="left:1453px;top:131px;width:280px;height:940px;background:#fff;border-radius:11px;box-shadow:0 3px 14px rgba(0,0,0,.26);"></div>
<span class="t" style="left:1471px;top:143.25px;font-size:13px;color:#2d2238;font-weight:700;letter-spacing:0.055px;">Share</span>
<svg class="b" style="left:1703px;top:143.5px;" width="12" height="12" viewBox="0 0 12 12" fill="none" stroke="#2d2238" stroke-width="1.3" stroke-linecap="round" stroke-linejoin="round"><path d="M1.5 1.5 L10.5 10.5 M10.5 1.5 L1.5 10.5"/></svg>
<div class="b" style="left:1453px;top:167px;width:280px;height:1px;background:#f0f0f2;"></div>
<div class="b" style="left:1460px;top:182px;width:266px;height:127px;border:2px solid #f5101b;border-radius:9px;"></div>
<span class="t" style="left:1471px;top:195.45px;font-size:13px;color:#2d2238;font-weight:700;letter-spacing:-0.115px;">Who can access</span>
<svg class="b" style="left:1470.5px;top:234px;" width="15" height="12" viewBox="0 0 15 12" fill="none" stroke="#3a3144" stroke-width="1" stroke-linecap="round" stroke-linejoin="round"><circle cx="5.4" cy="3.6" r="2.5"/><path d="M1 9 C1 6.6 9.8 6.6 9.8 9 C9.8 11.2 1 11.2 1 9 Z"/><circle cx="11.4" cy="4.4" r="1.9"/><path d="M11.6 7.6 C13 7.6 14 8.2 14 9.2 C14 10 13 10.6 11.8 10.6"/></svg>
<span class="t" style="left:1490.2px;top:232.02px;font-size:13.5px;color:#3a3144;letter-spacing:-0.005px;">Only Spacemates</span>
<span class="t" style="left:1651.6px;top:232.02px;font-size:13.5px;color:#5a3fe6;letter-spacing:0.158px;">Change</span>
<svg class="b" style="left:1703px;top:234px;" width="9" height="11" viewBox="0 0 9 11" fill="none" stroke="#15101c" stroke-width="1.7" stroke-linecap="round" stroke-linejoin="round"><path d="M2 1.4 L6.4 5.5 L2 9.6"/></svg>
<div class="b" style="left:1471px;top:268px;width:244px;height:27px;border:1px solid #d2d2d6;border-radius:4px;background:#fff;"></div>
<div class="b" style="left:1482px;top:270px;width:197.5px;height:23px;overflow:hidden;"><span class="t" style="left:0px;top:4.47px;font-size:13.33px;color:#454545;letter-spacing:0.02px;">https://app.vanihq.in/edition/60029</span></div>
<svg class="b" style="left:1695.5px;top:275.5px;" width="13" height="12" viewBox="0 0 13 12" fill="none" stroke="#3a3a3a" stroke-width="1" stroke-linecap="round" stroke-linejoin="round"><rect x="4.4" y="3.8" width="7.8" height="7.4" rx="2"/><path d="M2.6 7.6 A1.8 1.8 0 0 1 1 5.8 V2.8 A1.8 1.8 0 0 1 2.8 1 H6.4 A1.8 1.8 0 0 1 8.2 2.6"/></svg>
<div class="b" style="left:1471px;top:321px;width:244px;height:1px;background:#e9e9ec;"></div>
<span class="t" style="left:1471px;top:341.42px;font-size:13.5px;color:#3a3144;letter-spacing:0.098px;">Get embed code</span>
<svg class="b" style="left:1703px;top:343.5px;" width="9" height="11" viewBox="0 0 9 11" fill="none" stroke="#15101c" stroke-width="1.7" stroke-linecap="round" stroke-linejoin="round"><path d="M2 1.4 L6.4 5.5 L2 9.6"/></svg>
<div class="b" style="left:1453px;top:371px;width:280px;height:1px;background:#e6e6ea;"></div>
<span class="t" style="left:1471px;top:400.75px;font-size:13px;color:#2d2238;font-weight:700;letter-spacing:0.046px;">Add Spacemates</span>
<div class="b" style="left:1471px;top:434px;width:244px;height:34px;border:1px solid #2f2340;border-radius:4.5px;background:#fff;"></div>
<span class="t" style="left:1479.2px;top:444.82px;font-size:13.5px;color:#9a9a9a;letter-spacing:0.259px;">Enter email or name to invite</span>
<div class="b" style="left:1453px;top:499px;width:280px;height:1px;background:linear-gradient(90deg,rgba(230,230,234,0),#e4e4e8 40%,#e4e4e8 60%,rgba(230,230,234,0));"></div>
<span class="t" style="left:1471px;top:524.75px;font-size:13px;color:#2d2238;font-weight:700;letter-spacing:0.119px;">Spacemates</span>
<span class="t" style="left:1510.3px;top:577.42px;font-size:13.5px;color:#3a3144;letter-spacing:-0.309px;">Dan(You)</span>
<span class="t" style="left:1510.3px;top:631.42px;font-size:13.5px;color:#3a3144;letter-spacing:0.302px;">christie</span>
<span class="t" style="left:1510.3px;top:685.42px;font-size:13.5px;color:#3a3144;letter-spacing:-0.347px;">Josh</span>
<span class="t" style="left:1510.3px;top:739.42px;font-size:13.5px;color:#3a3144;letter-spacing:-0.327px;">Ash Lee</span>
<svg class="b" style="left:1476px;top:574.4px;" width="22" height="22" viewBox="0 0 22 22" fill="none" stroke="none" stroke-width="0" stroke-linecap="round" stroke-linejoin="round"><defs><clipPath id="a1"><circle cx="11" cy="11" r="11"/></clipPath></defs><g clip-path="url(#a1)"><rect width="22" height="22" fill="#b9633c"/><path d="M1.6 22 C2 14.6 5 10.6 11 10.2 C17 10.6 19.4 14.6 19.4 22 Z" fill="#11797e"/><path d="M5.9 11.4 L5.6 16.2 M16 11.4 L16.3 16.2" stroke="#e5a83c" stroke-width="1.5" stroke-linecap="butt"/><path d="M5 17 L5.6 22 M16.8 17 L16.2 22" stroke="#0b4f55" stroke-width="1"/><ellipse cx="11.1" cy="6.3" rx="3" ry="3.9" fill="#1d1715"/><ellipse cx="11.2" cy="7.2" rx="1.9" ry="2.6" fill="#b3917c"/><path d="M9.6 9.8 H12.9 L12.6 13.6 C11.8 14.2 10.8 14.2 10 13.6 Z" fill="#161626"/><path d="M11.2 13.8 V18" stroke="#0b4f55" stroke-width=".8"/></g></svg>
<svg class="b" style="left:1476px;top:628.4px;" width="22" height="22" viewBox="0 0 22 22" fill="none" stroke="none" stroke-width="0" stroke-linecap="round" stroke-linejoin="round"><defs><clipPath id="a2"><circle cx="11" cy="11" r="11"/></clipPath></defs><g clip-path="url(#a2)"><rect width="22" height="22" fill="#8f9a96"/><rect x="0" y="0" width="6" height="22" fill="#7d8a86"/><rect x="15.5" y="0" width="6.5" height="22" fill="#c3c8c6"/><rect x="12" y="0" width="1" height="5" fill="#3a4644"/><path d="M3 22 C3 19 4 17.6 5 16.6 L6 22Z" fill="#5f7a3a"/><path d="M5.4 22 C5.6 17.6 7.6 14.6 11.6 14.2 C14 15 15 18 15.4 22 Z" fill="#eeeeef"/><path d="M12.4 14.4 C16.6 15.4 19 18 19.4 22 H10.6 C11.6 19 12 16.6 12.4 14.4Z" fill="#8a999c"/><path d="M16.4 17 C18.4 18 19.6 20 19.6 22 H15.4Z" fill="#3c3233"/><ellipse cx="10.9" cy="8.2" rx="5.9" ry="5.5" fill="#3a2a25"/><ellipse cx="11.3" cy="9.4" rx="2.6" ry="3.5" fill="#bd8a5e"/><path d="M9 7.2 C10 5.6 12.6 5.4 13.8 7 C12.6 6.6 10.4 6.6 9 7.2Z" fill="#d99a4c"/><path d="M9.8 12.4 H12.2 L11.6 15.2 L9.6 14.8Z" fill="#a9774f"/></g></svg>
<svg class="b" style="left:1476px;top:682.5px;" width="22" height="22" viewBox="0 0 22 22" fill="none" stroke="none" stroke-width="0" stroke-linecap="round" stroke-linejoin="round"><defs><clipPath id="pc682"><circle cx="11" cy="11" r="11"/></clipPath></defs><g clip-path="url(#pc682)"><rect width="22" height="22" fill="#dde0eb"/><ellipse cx="10.9" cy="8.6" rx="5.7" ry="6.4" fill="#fff"/><ellipse cx="11" cy="25.5" rx="11" ry="11.5" fill="#fff"/><rect x="0" y="19" width="22" height="3" fill="#fff"/></g></svg>
<svg class="b" style="left:1476px;top:736.5px;" width="22" height="22" viewBox="0 0 22 22" fill="none" stroke="none" stroke-width="0" stroke-linecap="round" stroke-linejoin="round"><defs><clipPath id="pc736"><circle cx="11" cy="11" r="11"/></clipPath></defs><g clip-path="url(#pc736)"><rect width="22" height="22" fill="#dde0eb"/><ellipse cx="10.9" cy="8.6" rx="5.7" ry="6.4" fill="#fff"/><ellipse cx="11" cy="25.5" rx="11" ry="11.5" fill="#fff"/><rect x="0" y="19" width="22" height="3" fill="#fff"/></g></svg>
<span class="t" style="left:1666.6px;top:577.15px;font-size:13px;color:#6b6b6b;letter-spacing:-0.059px;">Owner</span>
<span class="t" style="left:1662.3px;top:631.15px;font-size:13px;color:#6b6b6b;letter-spacing:-0.222px;">Editor</span>
<span class="t" style="left:1629.2px;top:685.15px;font-size:13px;color:#6b6b6b;letter-spacing:-0.082px;">Commenter</span>
<span class="t" style="left:1657px;top:739.15px;font-size:13px;color:#6b6b6b;letter-spacing:-0.35px;">Viewer</span>
<span class="t" style="left:1711.3px;top:686.05px;font-size:13px;color:#6b6b6b;">.</span>
<svg class="b" style="left:1699.5px;top:637px;" width="8" height="6" viewBox="0 0 8 6" fill="none" stroke="#555" stroke-width="1.1" stroke-linecap="round" stroke-linejoin="round"><path d="M1.2 1.4 L4 4.2 L6.8 1.4"/></svg>
<svg class="b" style="left:1700.5px;top:691px;" width="8" height="6" viewBox="0 0 8 6" fill="none" stroke="#555" stroke-width="1.1" stroke-linecap="round" stroke-linejoin="round"><path d="M1.2 1.4 L4 4.2 L6.8 1.4"/></svg>
<svg class="b" style="left:1699.5px;top:745px;" width="8" height="6" viewBox="0 0 8 6" fill="none" stroke="#555" stroke-width="1.1" stroke-linecap="round" stroke-linejoin="round"><path d="M1.2 1.4 L4 4.2 L6.8 1.4"/></svg>
</div>
</body></html>
